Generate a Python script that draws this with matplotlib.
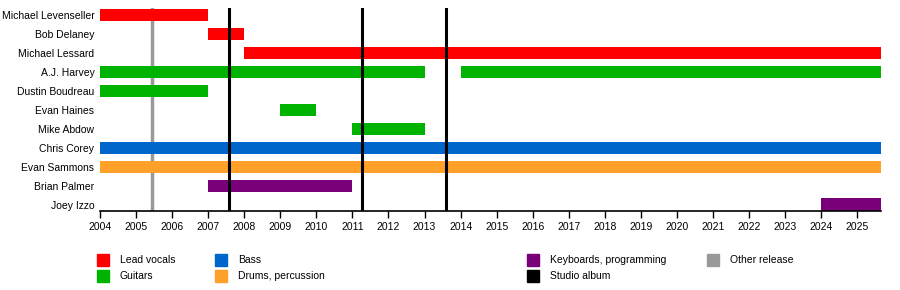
import matplotlib.pyplot as plt
from matplotlib.patches import Rectangle

plt.rcParams['font.family'] = ['Liberation Sans', 'DejaVu Sans']

members = ['Michael Levenseller', 'Bob Delaney', 'Michael Lessard', 'A.J. Harvey',
           'Dustin Boudreau', 'Evan Haines', 'Mike Abdow', 'Chris Corey',
           'Evan Sammons', 'Brian Palmer', 'Joey Izzo']

END = 2025.66

# (member, start, end, role)
spans = [
    ('Michael Levenseller', 2004.0, 2007.0, 'vocals'),
    ('Bob Delaney', 2007.0, 2008.0, 'vocals'),
    ('Michael Lessard', 2008.0, END, 'vocals'),
    ('A.J. Harvey', 2004.0, 2013.0, 'guitars'),
    ('A.J. Harvey', 2014.0, END, 'guitars'),
    ('Dustin Boudreau', 2004.0, 2007.0, 'guitars'),
    ('Evan Haines', 2009.0, 2010.0, 'guitars'),
    ('Mike Abdow', 2011.0, 2013.0, 'guitars'),
    ('Chris Corey', 2004.0, END, 'bass'),
    ('Evan Sammons', 2004.0, END, 'drums'),
    ('Brian Palmer', 2007.0, 2011.0, 'keys'),
    ('Joey Izzo', 2024.0, END, 'keys'),
]

studio_albums = [2007.58, 2011.27, 2013.6]
other_releases = [2005.44]

colors = {
    'vocals': '#ff0000',
    'guitars': '#00b300',
    'bass': '#0066cc',
    'drums': '#ffa02a',
    'keys': '#7a007a',
    'studio': '#000000',
    'other': '#999999',
}

legend_cols = [
    [('Lead vocals', 'vocals'), ('Guitars', 'guitars')],
    [('Bass', 'bass'), ('Drums, percussion', 'drums')],
    [('Keyboards, programming', 'keys'), ('Studio album', 'studio')],
    [('Other release', 'other')],
]
legend_x = [97, 215, 527, 707]

W, H = 900, 290
fig = plt.figure(figsize=(9, 2.9), dpi=100)
ax = fig.add_axes([100 / W, 1 - 211 / H, 781 / W, 203 / H])

rows = {m: i for i, m in enumerate(members)}
for m, s, e, role in spans:
    ax.barh(rows[m], e - s, left=s, height=0.64, color=colors[role], zorder=2)

for x in other_releases:
    ax.axvline(x, color=colors['other'], lw=2.5, zorder=1)
for x in studio_albums:
    ax.axvline(x, color=colors['studio'], lw=2.2, zorder=3)

ax.set_xlim(2004, END)
ax.set_ylim(len(members) - 1 + 0.34, -0.37)
ax.set_yticks(range(len(members)))
ax.set_yticklabels(members, fontsize=7.5)
ax.tick_params(axis='y', length=0, pad=4)
ax.set_xticks(range(2004, 2026))
ax.tick_params(axis='x', labelsize=7.5, length=5, width=1, pad=3, direction='out')
for side in ['left', 'right', 'top']:
    ax.spines[side].set_visible(False)
ax.spines['bottom'].set_linewidth(1.2)
ax.spines['bottom'].set_zorder(4)

for col, x0 in zip(legend_cols, legend_x):
    for j, (label, role) in enumerate(col):
        yc = 260 + j * 16
        fig.patches.append(Rectangle((x0 / W, 1 - (yc + 6) / H), 12 / W, 12 / H,
                                     transform=fig.transFigure, color=colors[role]))
        fig.text((x0 + 23) / W, 1 - yc / H, label, fontsize=7.5, va='center')

fig.savefig('out.png', dpi=100)
